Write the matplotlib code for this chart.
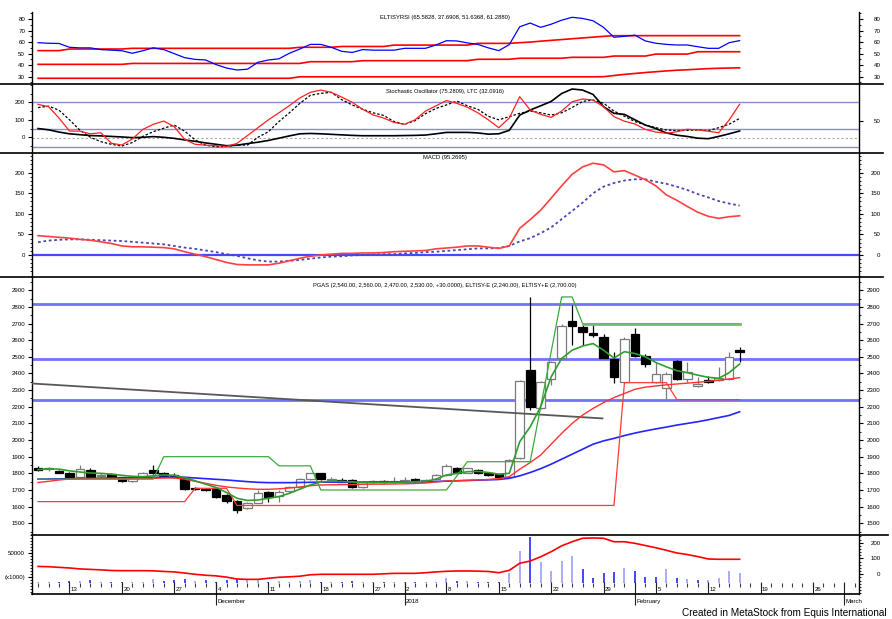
import numpy as np
import pandas as pd
import matplotlib
matplotlib.use("Agg")
import matplotlib.pyplot as plt
import matplotlib.transforms as mtransforms
from matplotlib import font_manager
from matplotlib.lines import Line2D
from matplotlib.ticker import MultipleLocator

# ---- trading calendar (IDX, PGAS) ----
holidays = ["2017-12-01", "2017-12-25", "2017-12-26", "2018-01-01"]
days = pd.bdate_range("2017-11-08", "2018-02-15")
days = days[~days.isin(pd.to_datetime(holidays))]
future_days = pd.bdate_range("2018-02-16", "2018-03-02")
axis_days = days.append(future_days)

# ---- price (candles) ----
opens = [1835, 1825, 1815, 1805, 1780, 1820, 1785, 1798, 1775, 1755,
         1780, 1822, 1802, 1792, 1775, 1712, 1706, 1710, 1668, 1635,
         1592, 1624, 1688, 1664, 1696, 1720, 1764, 1800, 1758, 1762,
         1762, 1718, 1748, 1755, 1748, 1754, 1764, 1750, 1765, 1790,
         1835, 1805, 1818, 1802, 1795, 1778, 1890, 2420, 2192, 2365,
         2492, 2718, 2680, 2645, 2617, 2490, 2351, 2636, 2505, 2351,
         2310, 2477, 2365, 2322, 2360, 2360, 2365, 2540]
highs = [1845, 1840, 1820, 1810, 1850, 1830, 1800, 1805, 1780, 1780,
         1810, 1850, 1810, 1800, 1780, 1720, 1712, 1712, 1675, 1640,
         1630, 1700, 1695, 1700, 1725, 1770, 1805, 1805, 1775, 1770,
         1765, 1755, 1760, 1760, 1780, 1775, 1770, 1768, 1795, 1856,
         1840, 1835, 1825, 1808, 1798, 1885, 2360, 2862, 2355, 2475,
         2700, 2812, 2690, 2700, 2640, 2531, 2620, 2675, 2520, 2462,
         2410, 2480, 2467, 2380, 2385, 2437, 2527, 2560]
lows = [1815, 1815, 1800, 1770, 1775, 1775, 1780, 1775, 1750, 1750,
        1775, 1795, 1780, 1770, 1700, 1700, 1695, 1650, 1620, 1560,
        1585, 1620, 1630, 1630, 1690, 1715, 1760, 1760, 1750, 1745,
        1710, 1712, 1740, 1740, 1742, 1745, 1748, 1745, 1760, 1785,
        1800, 1800, 1795, 1785, 1772, 1772, 1885, 2180, 2185, 2330,
        2490, 2571, 2571, 2620, 2491, 2341, 2345, 2500, 2440, 2345,
        2247, 2360, 2350, 2320, 2340, 2355, 2360, 2470]
closes = [1820, 1835, 1805, 1775, 1825, 1780, 1792, 1778, 1755, 1775,
          1800, 1800, 1785, 1778, 1705, 1708, 1702, 1657, 1636, 1580,
          1622, 1682, 1660, 1690, 1716, 1764, 1800, 1765, 1768, 1750,
          1718, 1750, 1753, 1745, 1755, 1760, 1752, 1762, 1790, 1842,
          1805, 1830, 1802, 1790, 1778, 1880, 2357, 2200, 2350, 2470,
          2687, 2688, 2650, 2632, 2492, 2378, 2607, 2505, 2457, 2395,
          2395, 2365, 2410, 2337, 2348, 2370, 2500, 2530]

ma_blue = [1765, 1766, 1767, 1768, 1769, 1770, 1771, 1772, 1772, 1773,
           1774, 1775, 1776, 1777, 1776, 1772, 1768, 1764, 1760, 1755,
           1750, 1746, 1744, 1744, 1744, 1745, 1746, 1747, 1747, 1747,
           1747, 1747, 1748, 1748, 1748, 1749, 1749, 1750, 1751, 1753,
           1755, 1757, 1759, 1761, 1763, 1770, 1785, 1805, 1828, 1855,
           1885, 1915, 1945, 1975, 1995, 2010, 2027, 2042, 2055, 2067,
           2078, 2090, 2100, 2110, 2122, 2135, 2148, 2170]
ma_red = [1745, 1752, 1760, 1766, 1767, 1767, 1767, 1767, 1767, 1767,
          1768, 1770, 1772, 1772, 1765, 1752, 1740, 1728, 1718, 1712,
          1707, 1704, 1704, 1707, 1712, 1718, 1726, 1730, 1731, 1732,
          1733, 1734, 1735, 1735, 1736, 1737, 1739, 1742, 1748, 1754,
          1756, 1758, 1760, 1763, 1768, 1780, 1825, 1865, 1910, 1975,
          2040, 2100, 2150, 2190, 2225, 2255, 2280, 2305, 2318, 2325,
          2332, 2337, 2342, 2347, 2353, 2360, 2367, 2375]
ma_green = [1822, 1828, 1825, 1815, 1808, 1802, 1800, 1795, 1788, 1782,
            1780, 1785, 1790, 1788, 1775, 1755, 1735, 1715, 1685, 1650,
            1637, 1640, 1650, 1660, 1680, 1705, 1730, 1748, 1752, 1752,
            1748, 1745, 1745, 1745, 1745, 1748, 1750, 1752, 1765, 1790,
            1800, 1810, 1812, 1805, 1795, 1800, 1990, 2080, 2200, 2380,
            2490, 2540, 2565, 2580, 2540, 2493, 2531, 2520, 2500, 2466,
            2440, 2417, 2405, 2390, 2377, 2371, 2405, 2457]
eltisy_plus = [1765, 1765, 1765, 1765, 1765, 1765, 1765, 1765, 1765, 1765,
               1765, 1765, 1900, 1900, 1900, 1900, 1900, 1900, 1900, 1900,
               1900, 1900, 1900, 1845, 1845, 1845, 1845, 1700, 1700, 1700,
               1700, 1700, 1700, 1700, 1700, 1700, 1700, 1700, 1700, 1700,
               1785, 1870, 1870, 1870, 1870, 1870, 1870, 1870, 2200, 2530,
               2860, 2860, 2700, 2700, 2700, 2700, 2700, 2700, 2700, 2700,
               2700, 2700, 2700, 2700, 2700, 2700, 2700, 2700]
eltisy_minus = [1630, 1630, 1630, 1630, 1630, 1630, 1630, 1630, 1630, 1630,
                1630, 1630, 1630, 1630, 1630, 1710, 1710, 1710, 1710, 1607,
                1607, 1607, 1607, 1607, 1607, 1607, 1607, 1607, 1607, 1607,
                1607, 1607, 1607, 1607, 1607, 1607, 1607, 1607, 1607, 1607,
                1607, 1607, 1607, 1607, 1607, 1607, 1607, 1607, 1607, 1607,
                1607, 1607, 1607, 1607, 1607, 1607, 2345, 2345, 2345, 2345,
                2345, 2243, 2243, 2243, 2243, 2243, 2243, 2243]
price_levels = [2820, 2490, 2240]
trend_idx = [-0.6, 53.9]
trend_val = [2340, 2130]

# ---- RSI ----
rsi = [59.5, 59.0, 58.8, 55.5, 55.0, 55.0, 53.5, 53.0, 52.5, 50.3,
       52.5, 55.0, 53.5, 50.0, 46.5, 45.0, 44.5, 40.5, 37.5, 35.8,
       36.5, 42.5, 44.5, 45.5, 50.3, 54.0, 58.0, 58.0, 55.5, 52.0,
       51.0, 53.5, 53.0, 53.0, 53.0, 54.6, 54.6, 54.6, 57.5, 61.2,
       61.0, 59.3, 58.0, 55.0, 52.6, 57.8, 73.3, 76.5, 72.8, 75.5,
       79.0, 81.5, 80.5, 78.5, 72.8, 64.2, 65.0, 66.0, 61.0, 59.0,
       58.0, 57.5, 57.5, 56.0, 54.6, 54.6, 59.5, 61.29]
rsi_upper = [52.6, 52.6, 52.6, 54.0, 54.0, 54.0, 54.0, 54.0, 54.0, 54.6,
             54.6, 54.6, 54.6, 54.6, 54.6, 54.6, 54.6, 54.6, 54.6, 54.6,
             54.6, 54.6, 54.6, 54.6, 54.6, 55.5, 55.5, 55.5, 55.5, 56.2,
             56.2, 56.2, 56.2, 56.2, 57.4, 57.4, 57.4, 57.4, 57.4, 57.4,
             57.4, 57.4, 58.9, 58.9, 58.9, 58.9, 59.5, 60.0, 60.8, 61.5,
             62.2, 62.9, 63.6, 64.3, 65.0, 65.58, 65.58, 65.58, 65.58, 65.58,
             65.58, 65.58, 65.58, 65.58, 65.58, 65.58, 65.58, 65.58]
rsi_mid = [40.7, 40.7, 40.7, 40.7, 40.7, 40.7, 40.7, 40.7, 40.7, 41.5,
           41.5, 41.5, 41.5, 41.5, 41.5, 41.5, 41.5, 41.5, 41.5, 41.5,
           41.5, 41.5, 41.5, 41.5, 41.5, 41.5, 43.0, 43.0, 43.0, 43.0,
           43.0, 43.9, 43.9, 43.9, 43.9, 43.9, 43.9, 43.9, 43.9, 43.9,
           43.9, 43.9, 45.1, 45.1, 45.1, 45.1, 46.0, 46.0, 46.0, 46.0,
           46.0, 46.8, 46.8, 46.8, 46.8, 47.9, 47.9, 47.9, 47.9, 49.6,
           49.6, 49.6, 49.6, 51.64, 51.64, 51.64, 51.64, 51.64]
rsi_lower = [28.6, 28.6, 28.6, 28.6, 28.6, 28.6, 28.6, 28.6, 28.6, 28.6,
             28.6, 28.6, 28.6, 28.6, 28.6, 28.6, 28.6, 28.6, 28.6, 28.6,
             28.6, 28.6, 28.6, 28.6, 28.6, 29.9, 29.9, 29.9, 29.9, 29.9,
             29.9, 29.9, 29.9, 29.9, 29.9, 29.9, 29.9, 29.9, 29.9, 29.9,
             29.9, 29.9, 29.9, 29.9, 29.9, 29.9, 29.9, 29.9, 29.9, 29.9,
             29.9, 29.9, 29.9, 29.9, 30.0, 31.0, 32.0, 32.8, 33.6, 34.3,
             35.0, 35.6, 36.0, 36.5, 37.0, 37.3, 37.5, 37.69]

# ---- Stochastic / LTC ----
stoch_k = [188, 175, 110, 36, 35, 20, 26, -34, -44, -10,
           45, 74, 93, 61, -12, -40, -45, -48, -52, -35,
           10, 55, 100, 140, 181, 225, 257, 270, 257, 230,
           200, 160, 128, 110, 85, 74, 100, 150, 180, 210,
           194, 172, 140, 100, 55, 110, 232, 156, 131, 114,
           150, 203, 219, 213, 175, 118, 92, 76, 45, 30,
           23, 32, 46, 42, 35, 26, 99, 189]
stoch_d = [170, 178, 155, 100, 40, 0, -25, -40, -50, -30,
           5, 32, 52, 70, 35, -15, -45, -54, -52, -45,
           -44, 0, 32, 90, 140, 194, 240, 251, 257, 215,
           185, 160, 140, 125, 90, 74, 95, 135, 165, 185,
           207, 180, 160, 120, 100, 118, 137, 150, 140, 127,
           140, 170, 205, 213, 195, 150, 120, 90, 70, 55,
           42, 38, 40, 42, 38, 55, 75, 108]
ltc = [50, 43, 30, 20, 15, 10, 8, 5, 2, -2,
       0, 4, 0, -6, -15, -23, -32, -40, -48, -45,
       -36, -28, -18, -5, 8, 20, 22, 20, 17, 14,
       11, 9, 9, 9, 9, 10, 11, 13, 20, 28,
       28, 28, 25, 18, 20, 40, 127, 156, 180, 205,
       250, 276, 270, 245, 175, 137, 131, 100, 70, 50,
       25, 12, 5, -5, -8, 5, 20, 36]
stoch_levels = [200, 50, -55]

# ---- MACD ----
macd = [47, 45, 43, 41, 38, 36, 32, 28, 22, 20,
        20, 19, 18, 15, 8, 2, -4, -11, -18, -23,
        -24, -24, -24, -20, -14, -8, -3, 0, 2, 4,
        4, 5, 5, 6, 8, 9, 10, 11, 15, 17,
        19, 22, 22, 19, 16, 22, 65, 86, 109, 138,
        168, 196, 214, 223, 219, 202, 205, 194, 183, 168,
        146, 133, 118, 104, 94, 89, 93, 95.27]
macd_signal = [31, 35, 37, 38, 38, 37, 36, 35, 34, 32,
               30, 28, 26, 22, 18, 15, 11, 7, 2, -2,
               -8, -13, -16, -16, -14, -12, -9, -6, -4, -3,
               -1, 0, 1, 2, 2, 4, 5, 7, 8, 10,
               12, 14, 16, 16, 17, 22, 33, 41, 53, 67,
               87, 107, 127, 150, 166, 175, 181, 184, 184, 178,
               173, 166, 158, 148, 140, 131, 125, 120]

# ---- volume ----
volume = [2700, 2000, 2700, 4500, 3900, 5500, 2700, 2700, 2000, 2700,
          2700, 6700, 3900, 5500, 6700, 3900, 5500, 2700, 5500, 6700,
          5500, 6700, 2700, 3900, 2700, 3900, 5500, 2700, 2000, 2700,
          3900, 2700, 2000, 2700, 2000, 2700, 2700, 2000, 2700, 8300,
          3900, 3900, 1500, 1500, 1500, 17800, 54400, 76600, 36100, 21100,
          37800, 45600, 23900, 8300, 17800, 19400, 25000, 21100, 11100, 11100,
          23300, 8300, 6700, 5500, 5500, 8300, 21100, 17800]
vol_line = [50, 48, 44, 40, 34, 31, 28, 24, 23, 23,
            23, 22, 18, 15, 8, 0, -6, -10, -18, -30,
            -32, -32, -25, -19, -16, -12, -3, 0, 0, 0,
            0, 0, 0, 3, 6, 6, 6, 10, 15, 19,
            21, 21, 20, 18, 10, 25, 70, 84, 111, 143,
            180, 206, 228, 230, 228, 206, 206, 196, 182, 168,
            152, 135, 125, 112, 97, 95, 95, 95]

rsi_title = "ELTISYRSI (65.5828, 37.6908, 51.6368, 61.2880)"
stoch_title = "Stochastic Oscillator (75.2809), LTC (32.0916)"
macd_title = "MACD (95.2695)"
price_title = ("PGAS (2,540.00, 2,560.00, 2,470.00, 2,530.00, +30.0000), "
               "ELTISY-E (2,240.00), ELTISY+E (2,700.00)")
credit = "Created in MetaStock from Equis International"


def first_font(names):
    for n in names:
        try:
            font_manager.findfont(font_manager.FontProperties(family=n),
                                  fallback_to_default=False)
            return n
        except ValueError:
            pass
    return "DejaVu Sans"


NARROW = first_font(["Liberation Sans Narrow", "Liberation Sans", "DejaVu Sans"])
ARIAL = first_font(["Liberation Sans", "DejaVu Sans"])
plt.rcParams["font.family"] = [NARROW, "DejaVu Sans"]
TICK_FS = 5.0 if NARROW == "Liberation Sans Narrow" else 4.4

W, H = 892, 619
XLIM = (-0.58, 78.4)
fig = plt.figure(figsize=(W / 100, H / 100), dpi=100)


def box(top, bottom):
    return [32 / W, 1 - bottom / H, (859 - 32) / W, (bottom - top) / H]


def left_scale(ax, lim, ticks, minor, labels=None):
    ax.set_xlim(*XLIM)
    ax.set_ylim(*lim)
    ax.set_xticks([])
    ax.set_yticks(ticks)
    if labels is not None:
        ax.set_yticklabels(labels)
    ax.yaxis.set_minor_locator(MultipleLocator(minor))
    ax.tick_params(axis="y", which="major", direction="out", length=3, width=0.8,
                   pad=2, labelsize=TICK_FS, right=False)
    ax.tick_params(axis="y", which="minor", direction="out", length=1.6, width=0.6, right=False)
    for s in ("top", "bottom", "right"):
        ax.spines[s].set_visible(False)
    ax.spines["left"].set_linewidth(1.0)


def right_scale(ax, lim, ticks, minor, labels=None):
    r = ax.twinx()
    r.set_xlim(*XLIM)
    r.set_ylim(*lim)
    r.set_yticks(ticks)
    if labels is not None:
        r.set_yticklabels(labels)
    if minor:
        r.yaxis.set_minor_locator(MultipleLocator(minor))
    r.tick_params(axis="y", which="major", direction="out", length=3, width=0.8,
                  pad=12.5, labelsize=TICK_FS)
    r.tick_params(axis="y", which="minor", direction="out", length=1.6, width=0.6)
    for t in r.yaxis.get_major_ticks():
        t.label2.set_horizontalalignment("right")
    for s in ("top", "bottom", "left"):
        r.spines[s].set_visible(False)
    r.spines["right"].set_linewidth(1.0)
    return r


x = np.arange(len(closes))

# ---------------- RSI panel ----------------
ax_rsi = fig.add_axes(box(12, 84.3))
lim = (23.4, 86.1)
left_scale(ax_rsi, lim, [30, 40, 50, 60, 70, 80], 5)
right_scale(ax_rsi, lim, [30, 40, 50, 60, 70, 80], 5)
for band in (rsi_upper, rsi_mid, rsi_lower):
    ax_rsi.plot(x, band, color="#ff0000", lw=1.2)
ax_rsi.plot(x, rsi, color="#0000ff", lw=0.9)

# ---------------- Stochastic panel ----------------
ax_sto = fig.add_axes(box(84.3, 153.3))
lim = (-91.4, 302.9)
left_scale(ax_sto, lim, [0, 100, 200], 50)
right_scale(ax_sto, lim, [93], None, ["50"])
for lv in stoch_levels:
    ax_sto.axhline(lv, color="#8a8ad2", lw=1.0)
ax_sto.axhline(-5, color="#a8a8a8", lw=0.8, ls=(0, (2, 2)))
ax_sto.plot(x, ltc, color="#000000", lw=1.2)
ax_sto.plot(x, stoch_d, color="#000000", lw=0.9, ls=(0, (2, 1.5)))
ax_sto.plot(x, stoch_k, color="#ff2020", lw=0.9)

# ---------------- MACD panel ----------------
ax_macd = fig.add_axes(box(153.3, 276.7))
lim = (-52.7, 247.1)
left_scale(ax_macd, lim, [0, 50, 100, 150, 200], 10)
right_scale(ax_macd, lim, [0, 50, 100, 150, 200], 10)
ax_macd.axhline(0, color="#4848ff", lw=1.6)
ax_macd.plot(x, macd_signal, color="#4848b0", lw=1.3, ls=(0, (1.5, 1.5)))
ax_macd.plot(x, macd, color="#ff4040", lw=1.2)

# ---------------- price panel ----------------
ax_px = fig.add_axes(box(276.7, 535))
lim = (1429.4, 2981.7)
pticks = list(range(1500, 3000, 100))
left_scale(ax_px, lim, pticks, 50)
right_scale(ax_px, lim, pticks, 50)
for lv in price_levels:
    ax_px.axhline(lv, color="#7272ff", lw=2.0, zorder=1)
o, h, l, c = map(np.asarray, (opens, highs, lows, closes))
up = c >= o
ax_px.vlines(x, l, h, colors=np.where(up, "#7a7a7a", "#000000"), lw=0.9, zorder=2)
lo_body = np.minimum(o, c)
h_body = np.maximum(np.abs(c - o), 4)
ax_px.bar(x[up], h_body[up], bottom=lo_body[up], width=0.82, facecolor="white",
          edgecolor="#7a7a7a", lw=0.9, zorder=3)
ax_px.bar(x[~up], h_body[~up], bottom=lo_body[~up], width=0.82, facecolor="black",
          edgecolor="black", lw=0.9, zorder=3)
ax_px.plot(trend_idx, trend_val, color="#585858", lw=1.3, zorder=4)
ax_px.plot(x, ma_blue, color="#2424ff", lw=1.2, zorder=4)
ax_px.plot(x, ma_red, color="#ff3030", lw=1.0, zorder=4)
ax_px.plot(x, eltisy_minus, color="#ff3a3a", lw=0.9, zorder=4)
ax_px.plot(x, eltisy_plus, color="#3caa3c", lw=0.9, zorder=4)
plus = np.asarray(eltisy_plus)
k = np.nonzero(plus != plus[-1])[0][-1] + 1
ax_px.plot(x[k:], plus[k:], color="#6cc06c", lw=2.0, zorder=4)
ax_px.plot(x, ma_green, color="#2e9e2e", lw=1.2, zorder=4)

# ---------------- volume panel ----------------
ax_vol = fig.add_axes(box(535, 594))
left_scale(ax_vol, (-17833, 80500), [10000, 50000], 5000, ["(x1000)", "50000"])
r_vol = right_scale(ax_vol, (-124.7, 248.7), [0, 100, 200], 20)
prev = np.r_[c[0], c[:-1]]
ax_vol.vlines(x, 0, volume, colors=np.where(c < prev, "#3636ff", "#a2a2ff"), lw=1.3)
r_vol.plot(x, vol_line, color="#ff0000", lw=1.2)

# date scale
trans = mtransforms.blended_transform_factory(ax_vol.transData, ax_vol.transAxes)
lab_trans = mtransforms.offset_copy(trans, fig=fig, x=1.5, y=0, units="dots")
pos = np.arange(len(axis_days))
ax_vol.vlines(pos, 0.124, 0.181, transform=trans, colors="#404040", lw=0.8)
weeks = axis_days.isocalendar().week.to_numpy()
for i in range(1, len(axis_days)):
    d = axis_days[i]
    if weeks[i] != weeks[i - 1]:
        ax_vol.vlines(i, 0, 0.195, transform=trans, colors="#202020", lw=0.8)
        ax_vol.text(i, 0.076, str(d.day), transform=lab_trans, fontsize=TICK_FS,
                    ha="left", va="center")
    if d.month != axis_days[i - 1].month:
        ax_vol.vlines(i, -0.186, 0.195, transform=trans, colors="#202020", lw=0.8,
                      clip_on=False)
        name = str(d.year) if d.month == 1 else d.strftime("%B")
        ax_vol.text(i, -0.119, name, transform=lab_trans, fontsize=TICK_FS,
                    ha="left", va="center", clip_on=False)

# panel separators
for y, x0, x1 in [(84.3, 0, 883), (153.3, 0, 883), (276.7, 0, 883),
                  (535, 32, 888), (594, 32, 859)]:
    fig.add_artist(Line2D([x0 / W, x1 / W], [1 - y / H, 1 - y / H], color="black", lw=1.2))

# titles, fitted to the width they take in the source
fitted = []
for xc, yc, s, w in [(445, 17.5, rsi_title, 130), (445, 91, stoch_title, 120),
                     (445, 158, macd_title, 44), (444.5, 285, price_title, 265)]:
    t = fig.text(xc / W, 1 - yc / H, s, ha="center", va="center", fontsize=6)
    fitted.append((t, w))
t = fig.text(682 / W, 1 - 618 / H, credit, ha="left", va="bottom", fontsize=7, family=ARIAL)
fitted.append((t, 204))

fig.canvas.draw()
for t, w in fitted:
    bb = t.get_window_extent()
    t.set_fontsize(t.get_fontsize() * w / bb.width)

fig.savefig("out.png", dpi=100, facecolor="white")
